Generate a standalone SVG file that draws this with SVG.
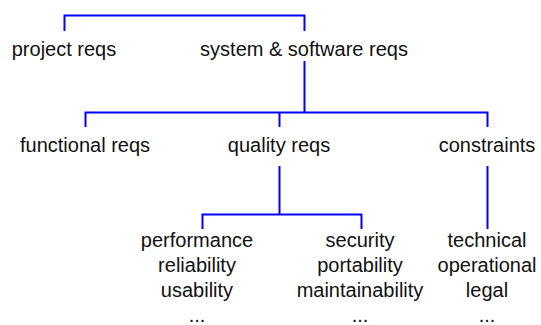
<svg xmlns="http://www.w3.org/2000/svg" width="541" height="325" viewBox="0 0 541 325">
  <style>
    .lbl { font-family: "Liberation Sans", Arial, sans-serif; font-size: 20px; fill: #111; text-anchor: middle; }
    .wire { fill: none; stroke: #0000ff; stroke-width: 2; stroke-linejoin: miter; }
  </style>
  <rect width="541" height="325" fill="#fff"/>

  <g id="connectors">
    <!-- top level -->
    <path class="wire" d="M64.5,31 V15.5 H304.5 V31"/>
    <!-- system & software reqs -> children -->
    <path class="wire" d="M304.5,61 V112.5"/>
    <path class="wire" d="M85.5,127 V112.5 H487.5 V127"/>
    <path class="wire" d="M279.5,112.5 V127"/>
    <!-- quality reqs -> children -->
    <path class="wire" d="M279.5,166 V214.5"/>
    <path class="wire" d="M202.5,229 V214.5 H361.5 V229"/>
    <!-- constraints -> children -->
    <path class="wire" d="M487.5,166 V229"/>
  </g>

  <g id="project-reqs"><text class="lbl" x="64" y="56">project reqs</text></g>
  <g id="system-software-reqs"><text class="lbl" x="304" y="56">system &amp; software reqs</text></g>

  <g id="functional-reqs"><text class="lbl" x="85" y="152">functional reqs</text></g>
  <g id="quality-reqs"><text class="lbl" x="279" y="152">quality reqs</text></g>
  <g id="constraints"><text class="lbl" x="487" y="152">constraints</text></g>

  <g id="quality-a">
    <text class="lbl" x="197" y="247">performance</text>
    <text class="lbl" x="197" y="272">reliability</text>
    <text class="lbl" x="197" y="297">usability</text>
    <text class="lbl" x="197" y="322">...</text>
  </g>
  <g id="quality-b">
    <text class="lbl" x="360" y="247">security</text>
    <text class="lbl" x="360" y="272">portability</text>
    <text class="lbl" x="360" y="297">maintainability</text>
    <text class="lbl" x="360" y="322">...</text>
  </g>
  <g id="constraint-kinds">
    <text class="lbl" x="487" y="247">technical</text>
    <text class="lbl" x="487" y="272">operational</text>
    <text class="lbl" x="487" y="297">legal</text>
    <text class="lbl" x="487" y="322">...</text>
  </g>
</svg>
